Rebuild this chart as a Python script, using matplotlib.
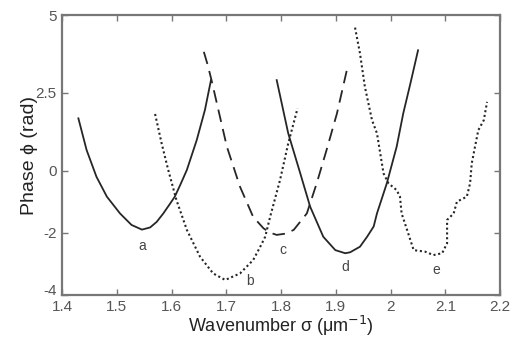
import matplotlib
matplotlib.use("Agg")
import matplotlib.pyplot as plt
import matplotlib.transforms as mtransforms

# --- Data ---
a_x = [1.430, 1.445, 1.463, 1.482, 1.506, 1.527, 1.546, 1.561, 1.573, 1.585,
       1.596, 1.606, 1.617, 1.628, 1.646, 1.661, 1.672]
a_y = [1.68, 0.66, -0.20, -0.84, -1.38, -1.75, -1.90, -1.83, -1.65, -1.38,
       -1.10, -0.84, -0.42, 0.02, 0.98, 1.95, 2.91]

b_x = [1.570, 1.582, 1.594, 1.609, 1.628, 1.652, 1.676, 1.698, 1.725, 1.749,
       1.762, 1.771, 1.780, 1.798, 1.813, 1.830]
b_y = [1.82, 0.87, 0.02, -0.95, -1.91, -2.77, -3.31, -3.52, -3.31, -2.88,
       -2.45, -2.13, -1.49, -0.31, 0.87, 2.00]

c_x = [1.659, 1.666, 1.673, 1.701, 1.725, 1.749, 1.768, 1.780, 1.792,
       1.808, 1.823, 1.847, 1.865, 1.883, 1.902, 1.920]
c_y = [3.82, 3.40, 2.91, 0.77, -0.52, -1.49, -1.86, -2.00, -2.07,
       -2.03, -1.91, -1.38, -0.41, 0.66, 1.84, 3.23]

d_x = [1.792, 1.813, 1.835, 1.853, 1.877, 1.899, 1.917, 1.926, 1.944, 1.957,
       1.969, 1.975, 1.993, 2.011, 2.023, 2.036, 2.050]
d_y = [2.91, 1.20, -0.09, -1.16, -2.13, -2.56, -2.66, -2.63, -2.45, -2.13,
       -1.80, -1.38, -0.41, 0.77, 1.84, 2.80, 3.87]

e_x = [1.935, 1.944, 1.953, 1.966, 1.975, 1.981, 1.987, 1.996, 2.011, 2.017,
       2.020, 2.030, 2.042, 2.063, 2.078, 2.094, 2.103, 2.103, 2.115, 2.121,
       2.139, 2.145, 2.148, 2.154, 2.160, 2.170, 2.176]
e_y = [4.60, 3.77, 2.69, 1.62, 1.20, 0.55, -0.09, -0.41, -0.63, -0.84,
       -1.38, -1.91, -2.56, -2.61, -2.72, -2.66, -2.34, -1.59, -1.38, -1.00,
       -0.84, -0.41, 0.23, 0.77, 1.30, 1.62, 2.21]

curve_labels = ["a", "b", "c", "d", "e"]
label_x = [1.546, 1.743, 1.803, 1.918, 2.084]
label_y = [-2.43, -3.55, -2.56, -3.10, -3.20]

x_ticks = [1.4, 1.5, 1.6, 1.7, 1.8, 1.9, 2.0, 2.1, 2.2]
x_tick_labels = ["1.4", "1.5", "1.6", "1.7", "1.8", "1.9", "2", "2.1", "2.2"]
y_ticks = [-4, -2, 0, 2.5, 5]
y_tick_labels = ["-4", "-2", "0", "2.5", "5"]

INK = "#262626"
plt.rcParams["font.family"] = ["Liberation Sans", "DejaVu Sans"]

fig = plt.figure(figsize=(5.12, 3.37), dpi=100)
ax = fig.add_axes([0.121, 0.125, 0.856, 0.830])

ax.plot(a_x, a_y, color=INK, lw=1.3, ls="-")
ax.plot(b_x, b_y, color=INK, lw=1.5, ls=(0, (1, 1.3)))
ax.plot(c_x, c_y, color=INK, lw=1.3, ls=(0, (7, 4)))
ax.plot(d_x, d_y, color=INK, lw=1.3, ls="-")
ax.plot(e_x, e_y, color=INK, lw=1.5, ls=(0, (1, 1.3)))

for txt, lx, ly in zip(curve_labels, label_x, label_y):
    ax.text(lx, ly, txt, ha="center", va="center", fontsize=10, color="#444444")

ax.set_xlim(1.4, 2.2)
ax.set_ylim(-4, 5)
ax.set_xticks(x_ticks)
ax.set_xticklabels(x_tick_labels)
ax.set_yticks(y_ticks)
ax.set_yticklabels(y_tick_labels)
ax.tick_params(direction="in", top=True, right=True, length=4, width=1,
               colors="#777777", labelcolor="#555555", labelsize=11)
ax.tick_params(axis="x", pad=3.5)
ax.tick_params(axis="y", pad=4)

# The "-4" label sits a little above its tick so it clears "1.4"
lowest = ax.yaxis.get_major_ticks()[0].label1
lowest.set_transform(lowest.get_transform()
                     + mtransforms.ScaledTranslation(0, 4 / 72, fig.dpi_scale_trans))

for spine in ax.spines.values():
    spine.set_color("#777777")
    spine.set_linewidth(1.6)

ax.set_xlabel("Wavenumber \u03c3 (\u03bcm$^{-1}$)", fontsize=13, color="#222222",
              labelpad=0)
ax.set_ylabel("Phase \u03d5 (rad)", fontsize=14, color="#222222", labelpad=-2)

fig.savefig("out.png", dpi=100)
